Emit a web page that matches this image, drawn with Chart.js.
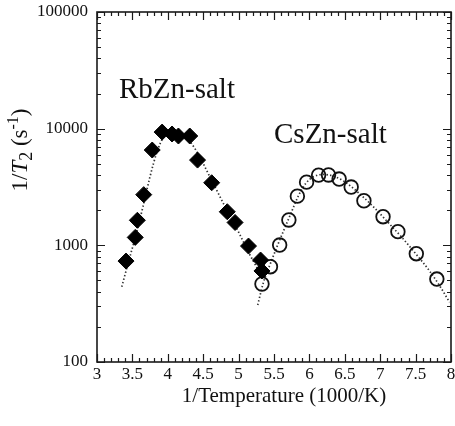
<!DOCTYPE html>
<html>
<head>
<meta charset="utf-8">
<script src="https://cdn.jsdelivr.net/npm/chart.js@4/dist/chart.umd.min.js"></script>
<style>
  html, body { margin: 0; padding: 0; background: #fff; }
  #wrap { width: 455px; height: 426px; }
</style>
</head>
<body>
<div id="wrap"><canvas id="c" width="455" height="426"></canvas></div>
<script>
// measured points, 1/T in 1000/K and 1/T2 in s^-1
const rbTemp = [3.41, 3.54, 3.57, 3.66, 3.78, 3.92, 4.06, 4.15, 4.31, 4.42, 4.62, 4.84, 4.95, 5.14, 5.31, 5.33];
const rbRate = [733, 1170, 1640, 2720, 6560, 9350, 9000, 8650, 8650, 5380, 3440, 1940, 1570, 986, 748, 603];

const csTemp = [5.33, 5.45, 5.58, 5.71, 5.83, 5.96, 6.13, 6.27, 6.42, 6.59, 6.77, 7.04, 7.25, 7.51, 7.80];
const csRate = [466, 656, 1006, 1650, 2640, 3480, 4000, 4010, 3700, 3160, 2410, 1760, 1310, 848, 514];

// dotted fit curves
const rbFitTemp = [3.35, 3.45, 3.55, 3.65, 3.75, 3.85, 3.95, 4.05, 4.15, 4.25, 4.4, 4.6, 4.8, 5.0, 5.15, 5.33];
const rbFitRate = [441, 740, 1230, 2150, 3900, 6400, 8700, 9700, 9500, 8600, 6500, 3800, 2200, 1300, 850, 540];

const csFitTemp = [5.27, 5.35, 5.45, 5.55, 5.65, 5.75, 5.85, 5.95, 6.05, 6.2, 6.35, 6.5, 6.7, 6.9, 7.1, 7.3, 7.5, 7.7, 7.85, 7.98];
const csFitRate = [308, 480, 700, 1000, 1400, 1950, 2700, 3400, 3850, 4050, 3900, 3500, 2800, 2150, 1600, 1180, 850, 600, 440, 325];

const decades = [100, 1000, 10000, 100000];

const toXY = (xs, ys) => xs.map((x, i) => ({ x, y: ys[i] }));

const serif = '"Liberation Serif", "DejaVu Serif", serif';
const ink = '#1a1a1a';

// frame, inward ticks on all four sides, x tick labels, axis titles and salt labels
const decorations = {
    id: 'decorations',
    afterDraw(chart) {
        const { ctx, chartArea: a, scales } = chart;
        const xs = scales.x, ys = scales.y;
        ctx.save();
        ctx.strokeStyle = ink;
        ctx.lineWidth = 1.6;
        ctx.strokeRect(a.left, a.top, a.right - a.left, a.bottom - a.top);

        ctx.lineWidth = 1.2;
        ctx.beginPath();
        for (let i = 0; i <= 50; i++) {
            const v = 3 + i * 0.1;
            const px = Math.round(xs.getPixelForValue(v)) + 0.5;
            const len = i % 5 === 0 ? 8 : 4;
            ctx.moveTo(px, a.bottom); ctx.lineTo(px, a.bottom - len);
            ctx.moveTo(px, a.top); ctx.lineTo(px, a.top + len);
        }
        decades.forEach((d, k) => {
            for (let m = 1; m <= 9; m++) {
                if (k === decades.length - 1 && m > 1) break;
                const py = Math.round(ys.getPixelForValue(d * m)) + 0.5;
                const len = m === 1 ? 8 : 4;
                ctx.moveTo(a.left, py); ctx.lineTo(a.left + len, py);
                ctx.moveTo(a.right, py); ctx.lineTo(a.right - len, py);
            }
        });
        ctx.stroke();

        ctx.fillStyle = '#111';
        ctx.textBaseline = 'middle';
        ctx.textAlign = 'center';
        ctx.font = `17px ${serif}`;
        xs.ticks.forEach(t => {
            ctx.fillText(String(t.value), xs.getPixelForValue(t.value), a.bottom + 13);
        });

        ctx.textBaseline = 'alphabetic';

        // x title
        ctx.font = `21px ${serif}`;
        ctx.fillText('1/Temperature (1000/K)', 284, 402);

        // y title, rotated, with italic T and sub/superscripts
        const parts = [
            { t: '1/', f: `23px ${serif}`, dy: 0 },
            { t: 'T', f: `italic 23px ${serif}`, dy: 0 },
            { t: '2', f: `18px ${serif}`, dy: 5 },
            { t: ' (s', f: `23px ${serif}`, dy: 0 },
            { t: '-1', f: `16px ${serif}`, dy: -9 },
            { t: ')', f: `23px ${serif}`, dy: 0 },
        ];
        let total = 0;
        parts.forEach(p => { ctx.font = p.f; p.w = ctx.measureText(p.t).width; total += p.w; });
        ctx.translate(27, 150);
        ctx.rotate(-Math.PI / 2);
        ctx.textAlign = 'left';
        let cx = -total / 2;
        parts.forEach(p => { ctx.font = p.f; ctx.fillText(p.t, cx, p.dy); cx += p.w; });
        ctx.setTransform(1, 0, 0, 1, 0, 0);

        // series labels
        ctx.font = `29px ${serif}`;
        ctx.textAlign = 'left';
        ctx.fillText('RbZn-salt', 119, 98);
        ctx.fillText('CsZn-salt', 274, 143);
        ctx.restore();
    }
};

new Chart(document.getElementById('c'), {
    type: 'scatter',
    data: {
        datasets: [
            {
                type: 'line',
                data: toXY(rbFitTemp, rbFitRate),
                borderColor: '#333',
                borderWidth: 1.7,
                borderDash: [1.4, 2.2],
                pointRadius: 0,
                cubicInterpolationMode: 'monotone',
                fill: false,
                order: 3,
            },
            {
                type: 'line',
                data: toXY(csFitTemp, csFitRate),
                borderColor: '#333',
                borderWidth: 1.7,
                borderDash: [1.4, 2.2],
                pointRadius: 0,
                cubicInterpolationMode: 'monotone',
                fill: false,
                order: 3,
            },
            {
                label: 'RbZn-salt',
                data: toXY(rbTemp, rbRate),
                pointStyle: 'rectRot',
                pointRadius: 8,
                backgroundColor: '#000',
                borderColor: '#000',
                borderWidth: 1,
                order: 1,
            },
            {
                label: 'CsZn-salt',
                data: toXY(csTemp, csRate),
                pointStyle: 'circle',
                pointRadius: 6.8,
                backgroundColor: 'rgba(255,255,255,0)',
                borderColor: '#111',
                borderWidth: 1.8,
                order: 2,
            },
        ],
    },
    options: {
        responsive: false,
        animation: false,
        events: [],
        layout: { autoPadding: false, padding: { top: 12, right: 4, left: 0, bottom: 0 } },
        plugins: {
            legend: { display: false },
            tooltip: { enabled: false },
        },
        scales: {
            x: {
                type: 'linear',
                min: 3,
                max: 8,
                grid: { display: false, drawTicks: false },
                border: { display: false },
                ticks: { stepSize: 0.5, display: false },
                afterFit: (s) => { s.height = 64; },
            },
            y: {
                type: 'logarithmic',
                min: 100,
                max: 100000,
                grid: { display: false, drawTicks: false },
                border: { display: false },
                ticks: {
                    padding: 9,
                    color: '#111',
                    autoSkip: false,
                    font: { family: serif, size: 17 },
                    callback: (v) => decades.includes(v) ? String(v) : '',
                },
                afterFit: (s) => { s.width = 97; s.paddingTop = 0; s.paddingBottom = 0; },
            },
        },
    },
    plugins: [decorations],
});
</script>
</body>
</html>
